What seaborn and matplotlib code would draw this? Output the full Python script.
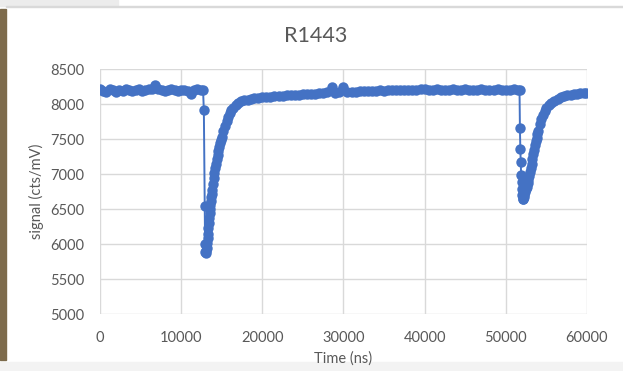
import numpy as np
import pandas as pd
import seaborn as sns
import matplotlib.pyplot as plt
from matplotlib.patches import Rectangle

### values (time in ns, signal in cts/mV)
base1_time = [0, 400, 800, 1200, 1600, 2000, 2400, 2800, 3200, 3600, 4000, 4400,
              4800, 5200, 5600, 6000, 6400, 6800, 7200, 7600, 8000, 8400, 8800,
              9200, 9600, 10000, 10400, 10800, 11200, 11600, 12000, 12400]
base1_signal = [8220, 8190, 8170, 8210, 8200, 8180, 8200, 8190, 8210, 8200, 8190, 8200,
                8210, 8190, 8200, 8210, 8220, 8270, 8210, 8200, 8190, 8200, 8210,
                8200, 8190, 8200, 8200, 8190, 8150, 8200, 8210, 8200]

dip1_time = [12700, 12800, 12900, 12950, 13000, 13050, 13100, 13150, 13200, 13250,
             13300, 13350, 13400, 13450, 13500, 13550, 13600, 13650, 13700, 13750,
             13800, 13900, 14000, 14100, 14200, 14300, 14400, 14500, 14600, 14700,
             14800, 14900, 15000, 15200, 15400, 15600, 15800, 16000, 16200, 16400,
             16700, 17000, 17400, 17800, 18200, 18600, 19000, 19500]
dip1_signal = [8200, 7910, 6550, 6000, 5880, 5870, 5900, 5950, 6010, 6080,
               6150, 6230, 6300, 6370, 6440, 6500, 6560, 6620, 6670, 6720,
               6770, 6860, 6940, 7010, 7080, 7150, 7210, 7270, 7330, 7390,
               7440, 7490, 7530, 7610, 7690, 7760, 7820, 7870, 7910, 7950,
               7990, 8020, 8040, 8055, 8065, 8075, 8085, 8090]

base2_time = [20000, 20500, 21000, 21500, 22000, 22500, 23000, 23500, 24000, 24500,
              25000, 25500, 26000, 26500, 27000, 27500, 28000, 28600, 29000, 29500,
              29900, 30500, 31000, 31500, 32000, 32500, 33000, 33500, 34000, 34500,
              35000, 35500, 36000, 36500, 37000, 37500, 38000, 38500, 39000, 39500,
              40000, 40500, 41000, 41500, 42000, 42500, 43000, 43500, 44000, 44500,
              45000, 45500, 46000, 46500, 47000, 47500, 48000, 48500, 49000, 49500,
              50000, 50500, 51000, 51500]
base2_signal = [8095, 8100, 8105, 8110, 8115, 8120, 8125, 8130, 8135, 8135,
                8140, 8145, 8150, 8150, 8155, 8160, 8170, 8240, 8160, 8170,
                8240, 8175, 8180, 8180, 8185, 8185, 8190, 8185, 8190, 8195,
                8190, 8195, 8200, 8195, 8200, 8195, 8200, 8205, 8200, 8210,
                8220, 8205, 8200, 8210, 8200, 8205, 8200, 8210, 8200, 8205,
                8215, 8200, 8205, 8200, 8210, 8200, 8205, 8200, 8210, 8200,
                8205, 8200, 8210, 8200]

dip2_time = [51700, 51750, 51800, 51850, 51900, 51950, 52000, 52050, 52100, 52150,
             52200, 52300, 52400, 52500, 52600, 52700, 52800, 52900, 53000, 53100,
             53200, 53300, 53400, 53500, 53600, 53700, 53800, 53900, 54000, 54200,
             54400, 54600, 54800, 55000, 55300, 55600, 56000, 56400, 56800, 57200,
             57600, 58000, 58400, 58800, 59200, 59600, 59900]
dip2_signal = [8200, 7660, 7360, 7170, 6990, 6880, 6780, 6700, 6640, 6650,
               6670, 6700, 6740, 6780, 6820, 6870, 6920, 6970, 7030, 7090,
               7150, 7220, 7290, 7350, 7410, 7470, 7520, 7570, 7620, 7710,
               7790, 7850, 7900, 7940, 7985, 8020, 8050, 8075, 8095, 8110,
               8125, 8135, 8145, 8150, 8155, 8160, 8160]

x_ticks = [0, 10000, 20000, 30000, 40000, 50000, 60000]
y_ticks = [5000, 5500, 6000, 6500, 7000, 7500, 8000, 8500]

df = pd.DataFrame({
    "time": base1_time + dip1_time + base2_time + dip2_time,
    "signal": base1_signal + dip1_signal + base2_signal + dip2_signal,
})

sns.set_style("white")
plt.rcParams["font.family"] = ["Lato", "DejaVu Sans"]
grey_text = "#595959"

fig = plt.figure(figsize=(6.23, 3.71), dpi=100)

# screenshot edges (brown strip on the left, grey bands on top and bottom)
fig.patches.append(Rectangle((0, 0.03), 0.01, 0.945, transform=fig.transFigure,
                             color="#7d6b4c", zorder=0))
fig.patches.append(Rectangle((0, 0.985), 0.19, 0.015, transform=fig.transFigure,
                             color="#ececec", zorder=0))
fig.patches.append(Rectangle((0.01, 0.98), 0.99, 0.004, transform=fig.transFigure,
                             color="#d9d9d9", zorder=0))
fig.patches.append(Rectangle((0, 0), 1, 0.025, transform=fig.transFigure,
                             color="#f3f3f3", zorder=0))

ax = fig.add_axes([0.1605, 0.1536, 0.7815, 0.660])
ax.set_zorder(2)
ax.set_facecolor("none")
sns.lineplot(data=df, x="time", y="signal", ax=ax, color="#4472C4",
             marker="o", markersize=7.5, markeredgewidth=0, linewidth=1.4,
             estimator=None, sort=False)

ax.set_xlim(0, 60000)
ax.set_ylim(5000, 8500)
ax.set_xticks(x_ticks)
ax.set_yticks(y_ticks)
ax.grid(True, color="#d9d9d9", linewidth=1)
ax.set_axisbelow(True)
for s in ax.spines.values():
    s.set_visible(False)
ax.tick_params(axis="both", length=0, labelsize=10.5, colors=grey_text)
ax.tick_params(axis="x", pad=12)
ax.tick_params(axis="y", pad=11)
ax.set_xlabel("Time (ns)", fontsize=10.5, color=grey_text, labelpad=5)
ax.set_ylabel("signal (cts/mV)", fontsize=10.5, color=grey_text, labelpad=5)
fig.text(0.507, 0.903, "R1443", ha="center", va="center",
         fontsize=15.5, color=grey_text)

fig.savefig("out.png", dpi=100)
